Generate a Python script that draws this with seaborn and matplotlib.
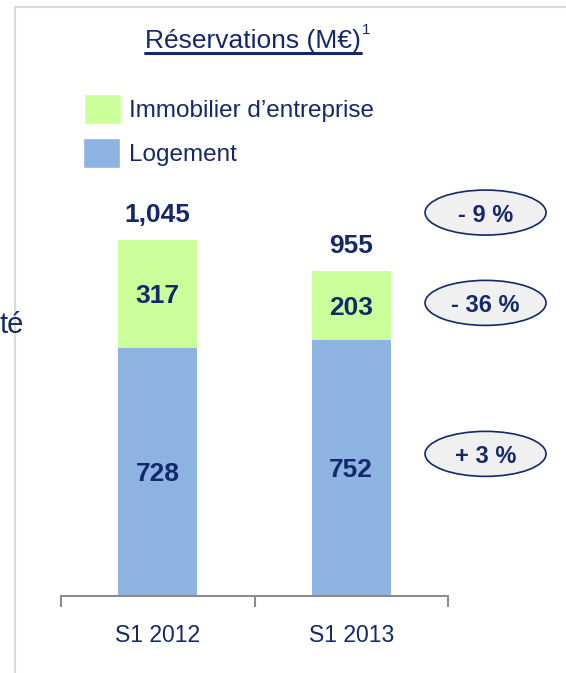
import numpy as np
import pandas as pd
import seaborn as sns
import matplotlib.pyplot as plt
from matplotlib.patches import Ellipse
from matplotlib.lines import Line2D

periods = ['S1 2012', 'S1 2013']
logement = [728, 752]
immobilier = [317, 203]
totals = [1045, 955]

NAVY = '#14286B'
GREEN = '#CCFF99'
BLUE = '#8DB3E2'

sns.set_style('white')
plt.rcParams['font.family'] = ['Liberation Sans', 'DejaVu Sans']

df = pd.DataFrame({'period': periods, 'Logement': logement,
                   'Immobilier': immobilier, 'total': totals})

fig = plt.figure(figsize=(5.66, 6.73), dpi=100)
W, H = 566, 673
ax = fig.add_axes([61 / W, 1 - 596 / H, 387 / W, 409 / H])

# stacked bars: Logement at bottom, Immobilier on top
sns.barplot(data=df, x='period', y='total', color=GREEN, width=0.41,
            saturation=1, ax=ax, linewidth=0)
sns.barplot(data=df, x='period', y='Logement', color=BLUE, width=0.41,
            saturation=1, ax=ax, linewidth=0)

ax.set_xlim(-0.5, 1.5)
ax.set_ylim(0, 1200)
ax.set_xlabel('')
ax.set_ylabel('')
ax.set_yticks([])
for s in ['top', 'right', 'left']:
    ax.spines[s].set_visible(False)
ax.spines['bottom'].set_color('#8C8C8C')
ax.spines['bottom'].set_linewidth(1.5)

ax.set_xticks([-0.5, 0.5, 1.5])
ax.set_xticklabels([])
ax.tick_params(axis='x', which='major', direction='out', length=8,
               width=1.5, color='#8C8C8C', bottom=True)
ax.set_xticks([0, 1], minor=True)
ax.set_xticklabels(periods, minor=True)
ax.tick_params(axis='x', which='minor', length=0, pad=20,
               labelsize=16.5, labelcolor=NAVY)

for i in range(len(periods)):
    ax.text(i, logement[i] / 2, str(logement[i]), ha='center',
            va='center_baseline', fontsize=19, fontweight='bold', color=NAVY)
    ax.text(i, logement[i] + immobilier[i] / 2, str(immobilier[i]),
            ha='center', va='center_baseline', fontsize=19,
            fontweight='bold', color=NAVY)
    ax.text(i, totals[i] + 80, f'{totals[i]:,}', ha='center',
            va='center_baseline', fontsize=19, fontweight='bold', color=NAVY)

# variation bubbles
changes = [(totals[1] / totals[0] - 1, 1125),
           (immobilier[1] / immobilier[0] - 1, 860),
           (logement[1] / logement[0] - 1, 417)]
for pct, yv in changes:
    v = round(pct * 100)
    label = f'- {abs(v)} %' if v < 0 else f'+ {v} %'
    ax.add_patch(Ellipse((1.694, yv), 121 / 193.5, 45 / 0.3407,
                         facecolor='#F0F0F0', edgecolor=NAVY, linewidth=1.2,
                         clip_on=False))
    ax.text(1.694, yv, label, ha='center', va='center_baseline', fontsize=17,
            fontweight='bold', color=NAVY, clip_on=False)

# title (underlined, with footnote mark) and legend
title = fig.text(145 / W, 1 - 48 / H, 'Réservations (M€)', ha='left',
                 va='baseline', fontsize=19, color=NAVY)
fig.canvas.draw()
bb = title.get_window_extent()
fig.add_artist(Line2D([bb.x0 / W, bb.x1 / W], [1 - 53 / H, 1 - 53 / H],
                      color=NAVY, linewidth=2.2))
fig.text(bb.x1 / W + 1 / W, 1 - 30 / H, '1', ha='left', va='center',
         fontsize=11, color=NAVY)

fig.add_artist(plt.Rectangle((84 / W, 1 - 124 / H), 37 / W, 30 / H,
                             facecolor=GREEN, transform=fig.transFigure))
fig.add_artist(plt.Rectangle((83 / W, 1 - 168 / H), 37 / W, 30 / H,
                             facecolor=BLUE, transform=fig.transFigure))
fig.text(129 / W, 1 - 109 / H, 'Immobilier d\u2019entreprise', ha='left',
         va='center_baseline', fontsize=17.5, color=NAVY)
fig.text(129 / W, 1 - 153 / H, 'Logement', ha='left', va='center_baseline',
         fontsize=17.5, color=NAVY)

# frame edge and cut-off text at left
fig.add_artist(Line2D([15 / W, 15 / W], [0, 1 - 7 / H], color='#D9D9D9', linewidth=1.5))
fig.add_artist(Line2D([15 / W, 1], [1 - 7 / H, 1 - 7 / H], color='#D9D9D9', linewidth=1.5))
fig.text(0, 1 - 322 / H, 'té', ha='left', va='center_baseline', fontsize=21,
         color=NAVY)

fig.savefig('out.png', dpi=100)
